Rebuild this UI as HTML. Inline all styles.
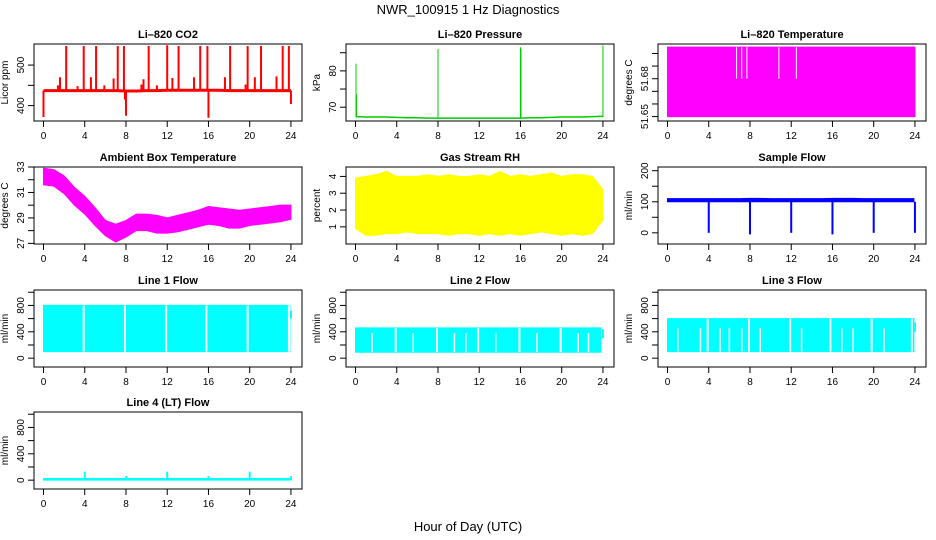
<!DOCTYPE html>
<html><head><meta charset="utf-8"><style>
body{margin:0;background:#fff}
svg{display:block;font-family:"Liberation Sans",sans-serif}
</style></head><body>
<svg id="c" width="936" height="540">
<text x="468" y="14" text-anchor="middle" font-size="13">NWR_100915  1 Hz Diagnostics</text>
<text x="468" y="531" text-anchor="middle" font-size="13">Hour of Day (UTC)</text>
</svg>
<script>
const hours=[0,1,2,3,4,5,6,7,8,9,10,11,12,13,14,15,16,17,18,19,20,21,22,23,24];
const xTicks=[0,4,8,12,16,20,24];
// CO2
const co2Base=[437,437,437,437,437,437,437,437,436,436,437,437,438,438,438,438,438,438,437,437,437,437,437,437,437];
const co2SpikeT=[2.2,3.9,5.1,7.2,7.8,10.2,12.0,13.1,15.2,15.9,18.1,19.8,21.1,23.2,23.8,1.6,4.6,6.8,9.7,12.5,14.6,17.6,20.5,22.6,1.4,3.3,5.9,9.5,11.0,19.6,0.0,8.0,16.0,7.9,24.0];
const co2SpikeV=[547,547,547,547,547,547,549,547,547,547,547,547,547,547,547,470,470,467,465,468,470,470,470,472,450,448,450,452,450,452,372,375,370,415,404];
// Pressure
const presBase=[67.4,67.3,67.3,67.3,67.2,67.1,67.1,67.0,67.0,67.0,67.0,67.0,67.0,67.0,67.0,67.0,67.0,67.1,67.1,67.2,67.3,67.3,67.3,67.4,67.5];
const presSpikeT=[0.05,0.1,8.0,16.0,16.05,24.0];
const presSpikeV=[82,73.5,86,86.5,86,87];
// Li-820 temperature
const tempMin=[51.65,51.65,51.65,51.65,51.65,51.65,51.65,51.65,51.65,51.65,51.65,51.65,51.65,51.65,51.65,51.65,51.65,51.65,51.65,51.65,51.65,51.65,51.65,51.65,51.65];
const tempMax=[51.705,51.705,51.705,51.705,51.705,51.705,51.705,51.705,51.705,51.705,51.705,51.705,51.705,51.705,51.705,51.705,51.705,51.705,51.705,51.705,51.705,51.705,51.705,51.705,51.705];
const tempGapT=[6.7,7.2,7.7,10.8,12.5];
const tempGapV=[51.68,51.68,51.68,51.68,51.68];
// Ambient box temperature
const ambMin=[31.6,31.5,30.9,30.0,29.3,28.4,27.6,27.1,27.5,28.0,28.0,27.8,27.8,27.9,28.1,28.3,28.5,28.4,28.2,28.2,28.4,28.5,28.6,28.7,28.9];
const ambMax=[32.9,32.8,32.3,31.4,30.7,29.8,28.8,28.5,28.8,29.3,29.3,29.2,29.0,29.2,29.4,29.6,29.9,29.8,29.7,29.6,29.7,29.8,29.9,30.0,30.0];
// Gas stream RH
const rhMin=[0.9,0.5,0.5,0.6,0.6,0.7,0.6,0.6,0.6,0.5,0.6,0.6,0.5,0.6,0.5,0.6,0.5,0.6,0.7,0.6,0.5,0.6,0.5,0.6,1.4];
const rhMax=[3.9,4.0,4.1,4.3,4.0,4.0,4.0,4.1,4.0,4.1,4.0,4.0,4.1,4.0,4.3,4.0,4.1,4.0,4.1,4.2,4.0,4.1,4.1,4.0,3.2];
// Sample flow
const sfMin=[100,100,100,100,100,100,100,100,100,100,100,100,100,100,100,100,100,100,100,100,100,100,100,100,100];
const sfMax=[110,110,110,110,110,110,110,110,111,111,110,110,110,110,110,110,111,111,111,110,110,110,110,110,110];
const sfDropT=[4.0,8.0,12.0,16.0,20.0,24.0];
const sfDropV=[0,-5,0,-5,0,0];
// Line flows
const l1Min=100, l1Max=800, l1GapT=[3.9,7.9,11.9,15.8,19.8,23.8];
const l2Max=460, l2FullGapT=[3.9,7.9,11.9,15.9,19.9];
const l2PartGapT=[1.6,5.6,9.6,10.7,13.6,17.6,21.6,22.6];
const l2PartGapV=[380,380,380,380,380,380,380,380];
const l3Max=600, l3FullGapT=[3.9,7.9,11.9,15.8,19.8,23.7];
const l3PartGapT=[1.0,3.2,5.1,6.0,7.2,9.0,13.0,16.9,18.0,21.0];
const l3PartGapV=[460,460,460,460,460,460,460,460,460,460];
const l4SpikeT=[4,8,12,16,20,24];
const l4SpikeV=[130,60,130,60,130,60];

const svg=document.getElementById('c');
const NS='http://www.w3.org/2000/svg';
function mk(tag,attrs,parent){const e=document.createElementNS(NS,tag);for(const k in attrs)e.setAttribute(k,attrs[k]);(parent||svg).appendChild(e);return e;}

function panel(name,title,yTitle,col,row,y0,y1,yTicks,yLabels){
  const L=[34,346,658][col],T=[44,167,290,412][row],W=268,H=77;
  const g=mk('g',{});
  
  
  const X=t=>L+9.5+t*10.31;
  const Y=v=>T+H-(v-y0)/(y1-y0)*H;
  const t=mk('text',{x:L+W/2,y:T-6,'text-anchor':'middle','font-size':11,'font-weight':'bold'},g);
  t.textContent=title;
  
  
  const yt=mk('text',{transform:`translate(${L-26},${T+H/2}) rotate(-90)`,'text-anchor':'middle','font-size':10},g);
  yt.textContent=yTitle;
  
  
  const plot=mk('g',{},g);
  
  
  const box=mk('rect',{x:L,y:T,width:W,height:H,fill:'none',stroke:'#000','stroke-width':1},g);
  
  
  xTicks.forEach(v=>{
    mk('line',{x1:X(v),x2:X(v),y1:T+H,y2:T+H+6,stroke:'#000'},g);
    const l=mk('text',{x:X(v),y:T+H+18,'text-anchor':'middle','font-size':10},g);
    l.textContent=v;
    
    
  });
  yTicks.forEach(v=>{
    mk('line',{x1:L,x2:L-6,y1:Y(v),y2:Y(v),stroke:'#000'},g);
    if(yLabels.includes(v)){
      const l=mk('text',{transform:`translate(${L-10},${Y(v)}) rotate(-90)`,'text-anchor':'middle','font-size':10},g);
      l.textContent=v;
      
      
    }
  });
  return {plot,X,Y};
}
function env(p,mins,maxs,color,t0,t1){
  let d='';const n=hours.length;
  const mn=Array.isArray(mins)?mins:hours.map(()=>mins), mx=Array.isArray(maxs)?maxs:hours.map(()=>maxs);
  const ts=hours.map(h=>Math.min(Math.max(h,t0),t1));
  ts.forEach((h,i)=>d+=(i?'L':'M')+p.X(h)+' '+p.Y(mx[i]));
  for(let i=n-1;i>=0;i--)d+='L'+p.X(ts[i])+' '+p.Y(mn[i]);
  const e=mk('path',{d:d+'Z',fill:color,stroke:color,'stroke-width':1},p.plot);
  
  
}
function vlines(p,ts,from,to,color,w,nm){
  ts.forEach((t,i)=>{
    const a=Array.isArray(from)?from[i]:from,b=Array.isArray(to)?to[i]:to;
    const e=mk('line',{x1:p.X(t),x2:p.X(t),y1:p.Y(a),y2:p.Y(b),stroke:color,'stroke-width':w},p.plot);
    
    
  });
}
function baseline(p,vals,color,w,t1){
  const d=hours.map((h,i)=>(i?'L':'M')+p.X(Math.min(h,t1))+' '+p.Y(vals[i])).join('');
  const e=mk('path',{d,fill:'none',stroke:color,'stroke-width':w},p.plot);
  
  
}
const red='#ff0000',green='#00cc00',mag='#ff00ff',yel='#ffff00',blue='#0000ff',cyan='#00ffff';

// CO2
let p=panel('co2','Li\u2013820 CO2','Licor ppm',0,0,362,552,[400,450,500],[400,500]);
baseline(p,co2Base,red,3,24);
vlines(p,co2SpikeT,co2Base[0],co2SpikeV,red,2,'co2-spike');
// Pressure
p=panel('pressure','Li\u2013820 Pressure','kPa',1,0,66.2,87.4,[70,75,80,85],[70,80]);
baseline(p,presBase,green,1.5,24);
vlines(p,presSpikeT,67.2,presSpikeV,green,1,'pressure-spike');
// Li-820 temperature
p=panel('li820-temp','Li\u2013820 Temperature','degrees C',2,0,51.6465,51.7075,[51.65,51.66,51.67,51.68,51.69,51.70],[51.65,51.68]);
env(p,tempMin,tempMax,mag,0,24);
vlines(p,tempGapT,51.705,tempGapV,'#fff',1,'temp-gap');
// Ambient
p=panel('ambient-temp','Ambient Box Temperature','degrees C',0,1,26.95,33,[27,28,29,30,31,32,33],[27,29,31,33]);
env(p,ambMin,ambMax,mag,0,24);
// RH
p=panel('gas-rh','Gas Stream RH','percent',1,1,-0.02,4.56,[1,2,3,4],[1,2,3,4]);
env(p,rhMin,rhMax,yel,0,24);
// Sample flow
p=panel('sample-flow','Sample Flow','ml/min',2,1,-36,212,[0,50,100,150,200],[0,100,200]);
env(p,sfMin,sfMax,blue,0,23.9);
vlines(p,sfDropT,100,sfDropV,blue,2,'sample-flow-drop');
// Line 1
p=panel('line1-flow','Line 1 Flow','ml/min',0,2,-134,1034,[0,200,400,600,800,1000],[0,400,800]);
env(p,l1Min,l1Max,cyan,0,23.9);
vlines(p,l1GapT,l1Min,l1Max,'#fff',2,'line1-gap');
vlines(p,[24],600,720,cyan,2,'line1-end');
// Line 2
p=panel('line2-flow','Line 2 Flow','ml/min',1,2,-134,1034,[0,200,400,600,800,1000],[0,400,800]);
env(p,90,l2Max,cyan,0,23.8);
vlines(p,l2FullGapT,90,l2Max,'#fff',2,'line2-gap');
vlines(p,l2PartGapT,90,l2PartGapV,'#fff',1.5,'line2-partial-gap');
vlines(p,[24],300,440,cyan,2,'line2-end');
// Line 3
p=panel('line3-flow','Line 3 Flow','ml/min',2,2,-134,1034,[0,200,400,600,800,1000],[0,400,800]);
env(p,100,l3Max,cyan,0,23.9);
vlines(p,l3FullGapT,100,l3Max,'#fff',2,'line3-gap');
vlines(p,l3PartGapT,100,l3PartGapV,'#fff',1.5,'line3-partial-gap');
vlines(p,[24],400,540,cyan,2,'line3-end');
// Line 4
p=panel('line4-flow','Line 4 (LT) Flow','ml/min',0,3,-134,1034,[0,200,400,600,800,1000],[0,400,800]);
env(p,0,25,cyan,0,24);
vlines(p,l4SpikeT,0,l4SpikeV,cyan,2,'line4-spike');
</script>
</body></html>
